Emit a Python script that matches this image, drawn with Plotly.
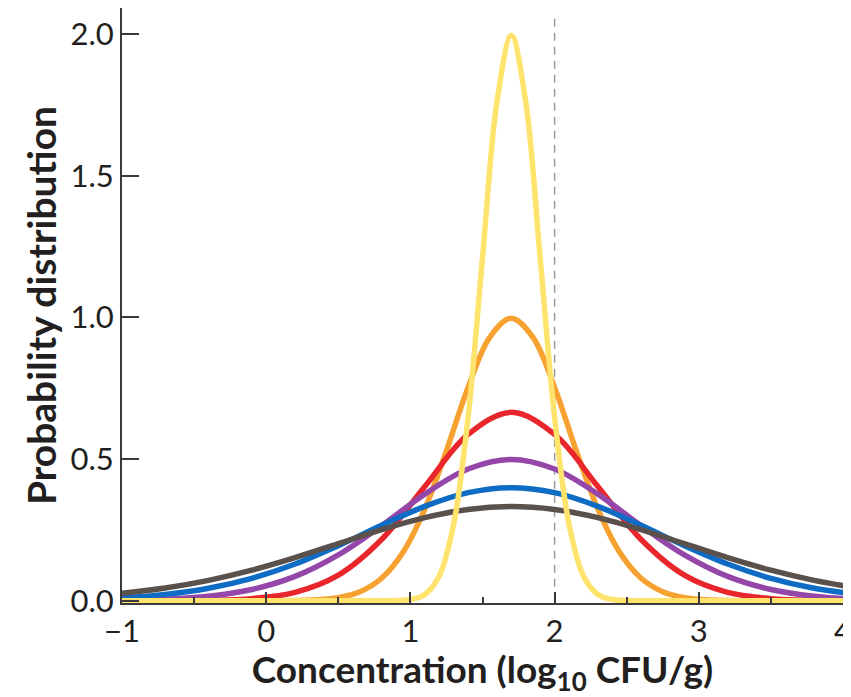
import plotly.graph_objects as go

# concentration grid for the wider curves (log10 CFU/g)
x_wide = [-1, -0.7, -0.4, -0.1, 0.2, 0.5, 0.8, 1.1, 1.4, 1.7,
          2.0, 2.3, 2.6, 2.9, 3.2, 3.5, 3.8, 4.1]

gray_y = [0.0265, 0.0450, 0.0719, 0.1079, 0.1522, 0.2016, 0.2509, 0.2934, 0.3222, 0.3324,
          0.3222, 0.2934, 0.2509, 0.2016, 0.1522, 0.1079, 0.0719, 0.0450]
blue_y = [0.0104, 0.0224, 0.0440, 0.0790, 0.1295, 0.1942, 0.2661, 0.3332, 0.3814, 0.3989,
          0.3814, 0.3332, 0.2661, 0.1942, 0.1295, 0.0790, 0.0440, 0.0224]
purple_y = [0.0017, 0.0055, 0.0159, 0.0397, 0.0860, 0.1619, 0.2648, 0.3764, 0.4648, 0.4987,
            0.4648, 0.3764, 0.2648, 0.1619, 0.0860, 0.0397, 0.0159, 0.0055]
red_y = [0.0, 0.0002, 0.0015, 0.0074, 0.0292, 0.0900, 0.2159, 0.4033, 0.5868, 0.6649,
         0.5868, 0.4033, 0.2159, 0.0900, 0.0292, 0.0074, 0.0015, 0.0002]

x_orange = [-1, 0.05, 0.2, 0.35, 0.5, 0.65, 0.8, 0.95, 1.1, 1.25, 1.4, 1.55, 1.7,
            1.85, 2.0, 2.15, 2.3, 2.45, 2.6, 2.75, 2.9, 3.05, 3.2, 3.35, 4.1]
orange_y = [0.0, 0.0002, 0.0009, 0.0034, 0.0111, 0.0318, 0.0794, 0.1720, 0.3238, 0.5297,
            0.7529, 0.9296, 0.9974, 0.9296, 0.7529, 0.5297, 0.3238, 0.1720, 0.0794,
            0.0318, 0.0111, 0.0034, 0.0009, 0.0002, 0.0]

x_yellow = [-1, 0.8, 0.9, 1.0, 1.1, 1.2, 1.3, 1.4, 1.5, 1.6, 1.7,
            1.8, 1.9, 2.0, 2.1, 2.2, 2.3, 2.4, 2.5, 2.6, 4.1]
yellow_y = [0.0, 0.0001, 0.0007, 0.0044, 0.0222, 0.0876, 0.2700, 0.6476, 1.2098, 1.7603, 1.9947,
            1.7603, 1.2098, 0.6476, 0.2700, 0.0876, 0.0222, 0.0044, 0.0007, 0.0001, 0.0]

x_ticks = [-1, 0, 1, 2, 3, 4]
y_ticks = [0.0, 0.5, 1.0, 1.5, 2.0]
threshold = 2

ink = "#231f20"
font_family = "Lato, 'Open Sans', sans-serif"

series = [
    (x_orange, orange_y, "#f6a130"),
    (x_wide, red_y, "#e8262b"),
    (x_wide, purple_y, "#9447a8"),
    (x_wide, blue_y, "#0f6cc4"),
    (x_wide, gray_y, "#5a514c"),
    (x_yellow, yellow_y, "#fee46c"),
]

fig = go.Figure()
for xs, ys, color in series:
    fig.add_trace(go.Scatter(
        x=xs, y=ys, mode="lines",
        line=dict(color=color, width=5.5, shape="spline"),
        showlegend=False, hoverinfo="skip",
    ))

fig.add_shape(type="line", x0=threshold, x1=threshold, y0=0, y1=2.07,
              xref="x", yref="y", layer="below",
              line=dict(color="#9a9a9a", width=1.5, dash="8px,6px"))

# the page body adds an 8px margin, so the figure is sized 8px smaller each way
fig.update_layout(
    width=843, height=689,
    margin=dict(l=114, r=8, t=0, b=94),
    plot_bgcolor="white", paper_bgcolor="white",
    font=dict(family=font_family, color=ink),
)
fig.update_xaxes(
    range=[-1, 4], tickvals=x_ticks, ticks="inside", ticklen=11, tickwidth=1.5,
    tickcolor="#3a3a3a", showline=True, linecolor="#3a3a3a", linewidth=2,
    showgrid=False, zeroline=False, tickfont=dict(size=31), automargin=False,
    ticklabeloverflow="allow",
    minor=dict(dtick=0.5, ticks="inside", ticklen=6, tickcolor="#3a3a3a", tickwidth=1.5),
    title=dict(text="<b>Concentration (log<sub>10</sub> CFU/g)</b>", font=dict(size=37), standoff=8),
)
fig.update_yaxes(
    range=[-0.008, 2.092], tickvals=y_ticks, tickformat=".1f", ticks="inside", ticklen=17,
    tickwidth=1.5, tickcolor="#3a3a3a", showline=True, linecolor="#3a3a3a", linewidth=2,
    showgrid=False, zeroline=False, tickfont=dict(size=31), automargin=False,
    title=dict(text="<b>Probability distribution</b>", font=dict(size=39), standoff=2),
)

fig.write_html("out.html")
